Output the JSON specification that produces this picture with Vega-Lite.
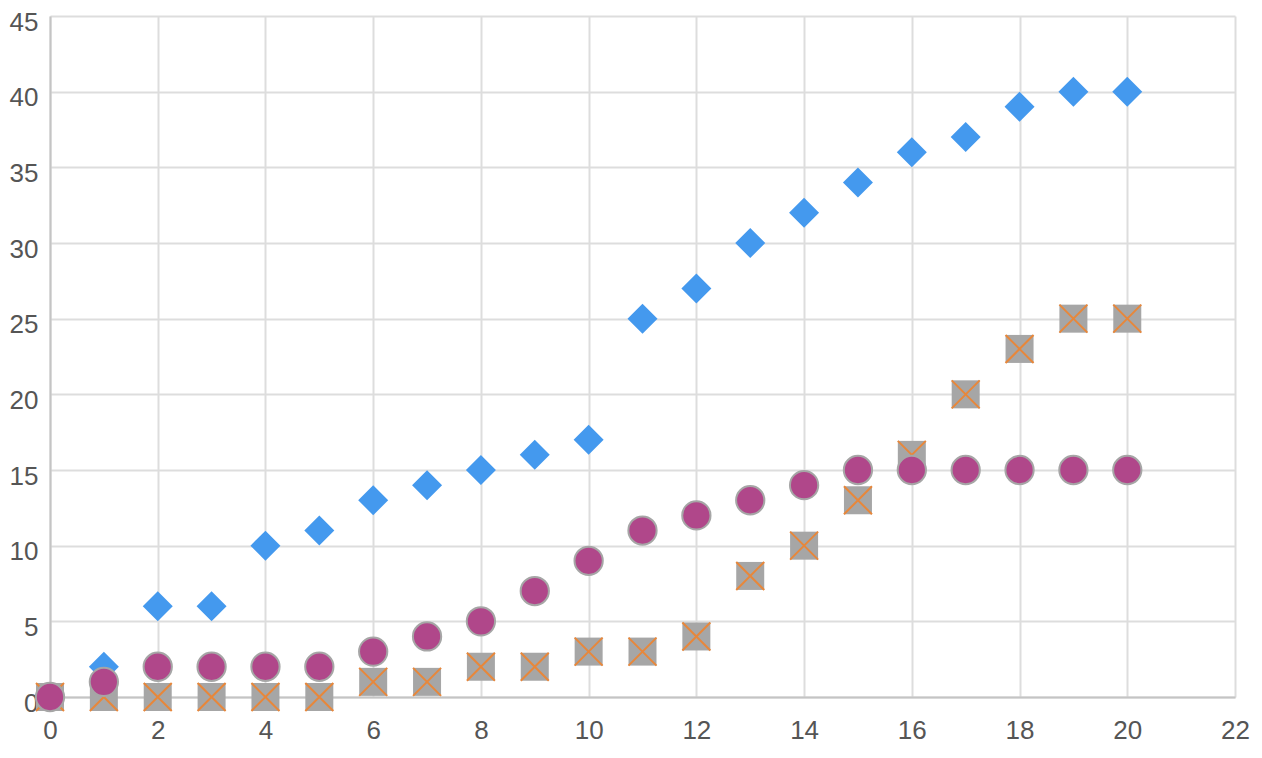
{
  "$schema": "https://vega.github.io/schema/vega-lite/v6.json",
  "width": 1185,
  "height": 681,
  "autosize": {"type": "none"},
  "padding": {"left": 50, "top": 16, "right": 27, "bottom": 61},
  "background": "white",
  "data": {
    "values": [
      {"x": 0, "y": 0, "series": "A"},
      {"x": 1, "y": 2, "series": "A"},
      {"x": 2, "y": 6, "series": "A"},
      {"x": 3, "y": 6, "series": "A"},
      {"x": 4, "y": 10, "series": "A"},
      {"x": 5, "y": 11, "series": "A"},
      {"x": 6, "y": 13, "series": "A"},
      {"x": 7, "y": 14, "series": "A"},
      {"x": 8, "y": 15, "series": "A"},
      {"x": 9, "y": 16, "series": "A"},
      {"x": 10, "y": 17, "series": "A"},
      {"x": 11, "y": 25, "series": "A"},
      {"x": 12, "y": 27, "series": "A"},
      {"x": 13, "y": 30, "series": "A"},
      {"x": 14, "y": 32, "series": "A"},
      {"x": 15, "y": 34, "series": "A"},
      {"x": 16, "y": 36, "series": "A"},
      {"x": 17, "y": 37, "series": "A"},
      {"x": 18, "y": 39, "series": "A"},
      {"x": 19, "y": 40, "series": "A"},
      {"x": 20, "y": 40, "series": "A"},
      {"x": 0, "y": 0, "series": "B"},
      {"x": 1, "y": 0, "series": "B"},
      {"x": 2, "y": 0, "series": "B"},
      {"x": 3, "y": 0, "series": "B"},
      {"x": 4, "y": 0, "series": "B"},
      {"x": 5, "y": 0, "series": "B"},
      {"x": 6, "y": 1, "series": "B"},
      {"x": 7, "y": 1, "series": "B"},
      {"x": 8, "y": 2, "series": "B"},
      {"x": 9, "y": 2, "series": "B"},
      {"x": 10, "y": 3, "series": "B"},
      {"x": 11, "y": 3, "series": "B"},
      {"x": 12, "y": 4, "series": "B"},
      {"x": 13, "y": 8, "series": "B"},
      {"x": 14, "y": 10, "series": "B"},
      {"x": 15, "y": 13, "series": "B"},
      {"x": 16, "y": 16, "series": "B"},
      {"x": 17, "y": 20, "series": "B"},
      {"x": 18, "y": 23, "series": "B"},
      {"x": 19, "y": 25, "series": "B"},
      {"x": 20, "y": 25, "series": "B"},
      {"x": 0, "y": 0, "series": "C"},
      {"x": 1, "y": 1, "series": "C"},
      {"x": 2, "y": 2, "series": "C"},
      {"x": 3, "y": 2, "series": "C"},
      {"x": 4, "y": 2, "series": "C"},
      {"x": 5, "y": 2, "series": "C"},
      {"x": 6, "y": 3, "series": "C"},
      {"x": 7, "y": 4, "series": "C"},
      {"x": 8, "y": 5, "series": "C"},
      {"x": 9, "y": 7, "series": "C"},
      {"x": 10, "y": 9, "series": "C"},
      {"x": 11, "y": 11, "series": "C"},
      {"x": 12, "y": 12, "series": "C"},
      {"x": 13, "y": 13, "series": "C"},
      {"x": 14, "y": 14, "series": "C"},
      {"x": 15, "y": 15, "series": "C"},
      {"x": 16, "y": 15, "series": "C"},
      {"x": 17, "y": 15, "series": "C"},
      {"x": 18, "y": 15, "series": "C"},
      {"x": 19, "y": 15, "series": "C"},
      {"x": 20, "y": 15, "series": "C"}
    ]
  },
  "encoding": {
    "x": {
      "field": "x",
      "type": "quantitative",
      "scale": {"domain": [0, 22], "nice": false},
      "axis": {
        "title": null,
        "values": [0, 2, 4, 6, 8, 10, 12, 14, 16, 18, 20, 22],
        "labelPadding": 33,
        "labelBaseline": "middle"
      }
    },
    "y": {
      "field": "y",
      "type": "quantitative",
      "scale": {"domain": [0, 45], "nice": false},
      "axis": {
        "title": null,
        "values": [0, 5, 10, 15, 20, 25, 30, 35, 40, 45],
        "labelPadding": 12,
        "labelOffset": 6
      }
    }
  },
  "layer": [
    {
      "transform": [{"filter": "datum.series == 'A'"}],
      "mark": {"type": "point", "shape": "diamond", "filled": true, "size": 900, "color": "#4499ee", "opacity": 1}
    },
    {
      "transform": [{"filter": "datum.series == 'B'"}],
      "mark": {"type": "point", "shape": "square", "filled": true, "size": 784, "color": "#a6a6a6", "opacity": 1}
    },
    {
      "transform": [{"filter": "datum.series == 'B'"}],
      "mark": {"type": "point", "shape": "M-1,-1L1,1M1,-1L-1,1", "filled": false, "size": 784, "color": "#e8873a", "strokeWidth": 2, "opacity": 1}
    },
    {
      "transform": [{"filter": "datum.series == 'C'"}],
      "mark": {"type": "circle", "size": 800, "fill": "#b0478a", "stroke": "#a6a6a6", "strokeWidth": 2, "opacity": 1, "fillOpacity": 1}
    }
  ],
  "config": {
    "view": {"stroke": null},
    "axis": {
      "grid": true,
      "gridColor": "#dddddd",
      "gridWidth": 2,
      "domainColor": "#c4c4c4",
      "domainWidth": 2,
      "ticks": false,
      "labelFont": "Liberation Sans",
      "labelFontSize": 26,
      "labelColor": "#555555",
      "labelFlush": false
    }
  }
}
